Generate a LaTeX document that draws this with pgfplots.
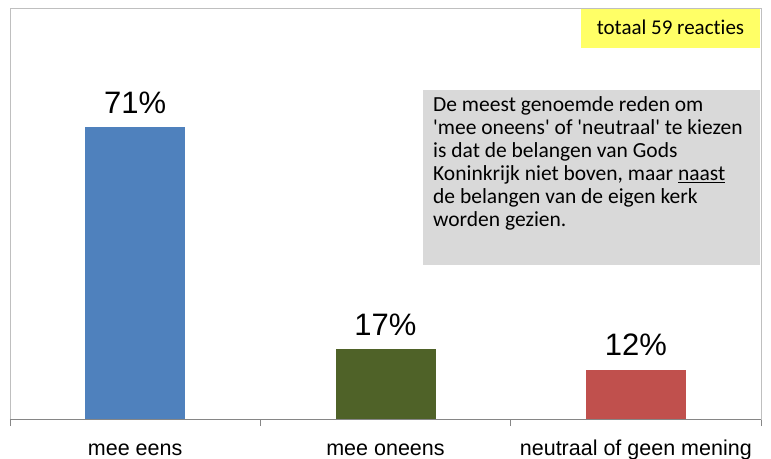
\documentclass[border=0pt]{standalone}
\usepackage{pgfplots}
\pgfplotsset{compat=1.18}
\usepackage{fontspec}
\setmainfont{Liberation Sans}
\newfontfamily\calibri[Ligatures=NoCommon]{Carlito}
\definecolor{cblue}{HTML}{4F81BD}
\definecolor{cgreen}{HTML}{4F6228}
\definecolor{cred}{HTML}{C0504D}
\definecolor{frame}{HTML}{BFBFBF}
\definecolor{axisline}{HTML}{868686}
\definecolor{boxgray}{HTML}{D9D9D9}
\definecolor{boxyellow}{HTML}{FFFF66}
\begin{document}
\begin{tikzpicture}
\path[use as bounding box] (-10pt,-39pt) rectangle (761pt,419pt);
\begin{axis}[
  at={(0,0)}, anchor=south west,
  scale only axis,
  width=751pt, height=411pt,
  xmin=-0.5, xmax=2.5,
  ymin=0, ymax=100,
  ybar, bar width=100pt, bar shift=0pt,
  axis line style={frame, line width=0.8pt},
  ytick=\empty,
  xtick={-0.5,0.5,1.5,2.5},
  x tick label as interval,
  xticklabels={mee eens, mee oneens, neutraal of geen mening},
  xtick pos=bottom,
  tick align=outside,
  major tick length=7pt,
  xtick style={axisline, line width=0.8pt},
  xticklabel style={font=\fontsize{21.5}{24}\selectfont, anchor=base, yshift=-29pt},
  /pgf/number format/assume math mode=true,
  nodes near coords={\pgfmathprintnumber{\pgfplotspointmeta}\%},
  every node near coord/.append style={font=\fontsize{31}{34}\selectfont, anchor=base, yshift=14pt, text=black},
]
\addplot[fill=cblue, draw=none] coordinates {(0,71)};
\addplot[fill=cgreen, draw=none] coordinates {(1,17)};
\addplot[fill=cred, draw=none] coordinates {(2,12)};
\draw[axisline, line width=0.8pt] (rel axis cs:0,0) -- (rel axis cs:1,0);
\end{axis}
\fill[boxyellow] (571pt,410pt) rectangle (750pt,371pt);
\node[anchor=base, font=\calibri\fontsize{21}{24}\selectfont, inner sep=0pt] at (660.5pt,384pt) {totaal 59 reacties};
\fill[boxgray] (413pt,329pt) rectangle (750pt,154pt);
\node[anchor=base west, align=left, inner sep=0pt, font=\calibri\fontsize{21.5}{23}\selectfont] at (423pt,192pt)
  {De meest genoemde reden om\\
   'mee oneens' of 'neutraal' te kiezen\\
   is dat de belangen van Gods\\
   Koninkrijk niet boven, maar \underline{naast}\\
   de belangen van de eigen kerk\\
   worden gezien.};
\end{tikzpicture}
\end{document}
